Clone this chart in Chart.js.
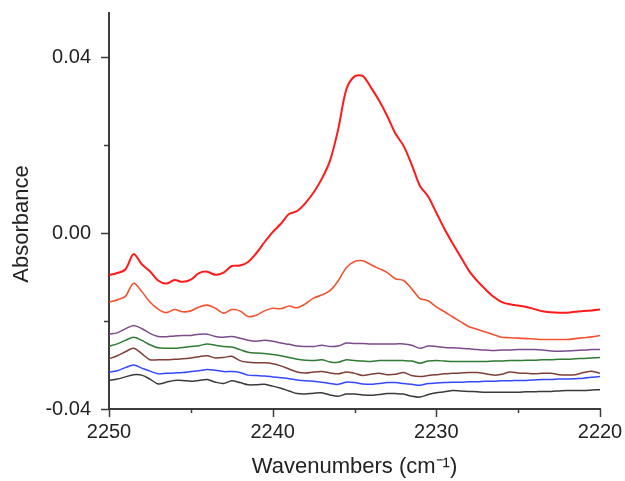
<!DOCTYPE html>
<html>
<head>
<meta charset="utf-8">
<script src="https://cdn.jsdelivr.net/npm/chart.js@4.4.1/dist/chart.umd.min.js"></script>
<style>
  html, body { margin: 0; padding: 0; background: #fff; }
  canvas { display: block; }
</style>
</head>
<body>
<canvas id="myChart" width="625" height="481"></canvas>
<script>
// wavenumbers (cm-1), shared by all spectra
const wavenumbers = [
  2250, 2249.5, 2249, 2248.5, 2248, 2247.5, 2247, 2246.5, 2246, 2245.5,
  2245, 2244.5, 2244, 2243.5, 2243, 2242.5, 2242, 2241.5, 2241, 2240.5,
  2240, 2239.5, 2239, 2238.5, 2238, 2237.5, 2237, 2236.5, 2236, 2235.5,
  2235, 2234.5, 2234, 2233.5, 2233, 2232.5, 2232, 2231.5, 2231, 2230.5,
  2230, 2229.5, 2229, 2228.5, 2228, 2227.5, 2227, 2226.5, 2226, 2225.5,
  2225, 2224.5, 2224, 2223.5, 2223, 2222.5, 2222, 2221.5, 2221, 2220.5, 2220
];

// absorbance of each spectrum, top to bottom
const redSpectrum = [
  -0.0096, -0.0091, -0.0083, -0.0048, -0.0071, -0.0087, -0.0108, -0.0115, -0.0107, -0.0111,
  -0.0106, -0.0091, -0.0088, -0.0095, -0.0090, -0.0075, -0.0074, -0.0066, -0.0046, -0.0021,
  0.0002, 0.0021, 0.0043, 0.0050, 0.0068, 0.0092, 0.0123, 0.0164, 0.0235, 0.0326,
  0.0356, 0.0357, 0.0331, 0.0301, 0.0266, 0.0226, 0.0198, 0.0155, 0.0107, 0.0083,
  0.0046, 0.0009, -0.0024, -0.0055, -0.0086, -0.0109, -0.0128, -0.0145, -0.0157, -0.0162,
  -0.0165, -0.0168, -0.0173, -0.0178, -0.0180, -0.0181, -0.0181, -0.0179, -0.0177, -0.0176, -0.0174
];
const orangeSpectrum = [
  -0.0157, -0.0152, -0.0144, -0.0114, -0.0133, -0.0157, -0.0173, -0.0181, -0.0174, -0.0179,
  -0.0177, -0.0168, -0.0164, -0.0171, -0.0182, -0.0174, -0.0177, -0.0190, -0.0187, -0.0177,
  -0.0171, -0.0172, -0.0166, -0.0170, -0.0161, -0.0148, -0.0141, -0.0131, -0.0109, -0.0079,
  -0.0065, -0.0063, -0.0072, -0.0081, -0.0090, -0.0104, -0.0108, -0.0127, -0.0149, -0.0154,
  -0.0168, -0.0179, -0.0191, -0.0202, -0.0213, -0.0219, -0.0225, -0.0231, -0.0237, -0.0238,
  -0.0239, -0.0240, -0.0241, -0.0242, -0.0242, -0.0242, -0.0242, -0.0240, -0.0238, -0.0236, -0.0233
];
const purpleSpectrum = [
  -0.0230, -0.0227, -0.0218, -0.0210, -0.0217, -0.0228, -0.0235, -0.0236, -0.0234, -0.0233,
  -0.0233, -0.0230, -0.0230, -0.0235, -0.0237, -0.0235, -0.0239, -0.0244, -0.0246, -0.0244,
  -0.0246, -0.0250, -0.0253, -0.0257, -0.0258, -0.0258, -0.0255, -0.0258, -0.0257, -0.0250,
  -0.0251, -0.0251, -0.0252, -0.0252, -0.0252, -0.0252, -0.0252, -0.0255, -0.0262, -0.0257,
  -0.0258, -0.0260, -0.0261, -0.0262, -0.0263, -0.0265, -0.0266, -0.0267, -0.0266, -0.0266,
  -0.0265, -0.0265, -0.0265, -0.0266, -0.0268, -0.0269, -0.0268, -0.0267, -0.0266, -0.0265, -0.0265
];
const greenSpectrum = [
  -0.0257, -0.0252, -0.0244, -0.0237, -0.0244, -0.0254, -0.0261, -0.0262, -0.0262, -0.0260,
  -0.0258, -0.0256, -0.0252, -0.0255, -0.0258, -0.0259, -0.0265, -0.0271, -0.0273, -0.0274,
  -0.0276, -0.0279, -0.0283, -0.0287, -0.0289, -0.0290, -0.0288, -0.0293, -0.0294, -0.0288,
  -0.0290, -0.0291, -0.0292, -0.0290, -0.0290, -0.0290, -0.0290, -0.0291, -0.0296, -0.0291,
  -0.0290, -0.0291, -0.0292, -0.0292, -0.0292, -0.0292, -0.0292, -0.0291, -0.0291, -0.0290,
  -0.0290, -0.0289, -0.0289, -0.0288, -0.0288, -0.0287, -0.0287, -0.0286, -0.0285, -0.0284, -0.0283
];
const brownSpectrum = [
  -0.0286, -0.0279, -0.0270, -0.0262, -0.0274, -0.0288, -0.0288, -0.0288, -0.0287, -0.0286,
  -0.0284, -0.0281, -0.0279, -0.0284, -0.0283, -0.0280, -0.0290, -0.0294, -0.0295, -0.0295,
  -0.0297, -0.0302, -0.0309, -0.0316, -0.0318, -0.0316, -0.0315, -0.0318, -0.0320, -0.0316,
  -0.0319, -0.0324, -0.0321, -0.0319, -0.0322, -0.0321, -0.0317, -0.0324, -0.0326, -0.0324,
  -0.0322, -0.0320, -0.0319, -0.0318, -0.0317, -0.0317, -0.0320, -0.0323, -0.0321, -0.0316,
  -0.0318, -0.0319, -0.0320, -0.0319, -0.0319, -0.0322, -0.0323, -0.0322, -0.0317, -0.0314, -0.0319
];
const blueSpectrum = [
  -0.0316, -0.0313, -0.0306, -0.0300, -0.0307, -0.0314, -0.0320, -0.0319, -0.0318, -0.0317,
  -0.0315, -0.0313, -0.0310, -0.0312, -0.0315, -0.0315, -0.0317, -0.0323, -0.0324, -0.0325,
  -0.0327, -0.0329, -0.0331, -0.0334, -0.0336, -0.0337, -0.0339, -0.0342, -0.0344, -0.0339,
  -0.0340, -0.0343, -0.0344, -0.0342, -0.0340, -0.0340, -0.0342, -0.0344, -0.0346, -0.0342,
  -0.0341, -0.0340, -0.0339, -0.0339, -0.0338, -0.0338, -0.0337, -0.0337, -0.0336, -0.0336,
  -0.0335, -0.0335, -0.0334, -0.0333, -0.0333, -0.0332, -0.0332, -0.0331, -0.0330, -0.0328, -0.0326
];
const blackSpectrum = [
  -0.0335, -0.0332, -0.0327, -0.0322, -0.0323, -0.0332, -0.0343, -0.0339, -0.0335, -0.0335,
  -0.0337, -0.0335, -0.0333, -0.0339, -0.0342, -0.0336, -0.0340, -0.0345, -0.0345, -0.0344,
  -0.0348, -0.0353, -0.0359, -0.0365, -0.0366, -0.0364, -0.0363, -0.0368, -0.0371, -0.0366,
  -0.0366, -0.0368, -0.0369, -0.0367, -0.0365, -0.0365, -0.0366, -0.0371, -0.0373, -0.0367,
  -0.0363, -0.0361, -0.0358, -0.0359, -0.0360, -0.0361, -0.0362, -0.0362, -0.0362, -0.0362,
  -0.0362, -0.0361, -0.0361, -0.0360, -0.0360, -0.0359, -0.0358, -0.0358, -0.0358, -0.0357, -0.0356
];

const xTicks = [2250, 2245, 2240, 2235, 2230, 2225, 2220];
const xLabeled = [2250, 2240, 2230, 2220];
const yTicks = [-0.04, -0.02, 0, 0.02, 0.04];
const yLabeled = [-0.04, 0, 0.04];

const FONT = "'Liberation Sans', Arial, sans-serif";
const AXIS = "#3c3c3c";

function toPoints(values) {
  return values.map((v, i) => ({ x: wavenumbers[i], y: v }));
}

function spectrum(values, color, width) {
  return {
    data: toPoints(values),
    borderColor: color,
    borderWidth: width,
    pointRadius: 0,
    fill: false,
    tension: 0.3,
  };
}

// keep the plot box where the reference has it
function noEdgePadding(scale) {
  scale.paddingTop = 0;
  scale.paddingBottom = 0;
  scale.paddingLeft = 0;
  scale.paddingRight = 0;
}

// ticks outside the axes, long for labelled values, short for the others
const tickMarks = {
  id: "tickMarks",
  afterDraw(chart) {
    const ctx = chart.ctx;
    const xs = chart.scales.x;
    const ys = chart.scales.y;
    const area = chart.chartArea;
    ctx.save();
    ctx.strokeStyle = AXIS;
    ctx.lineWidth = 1.5;
    ctx.beginPath();
    xTicks.forEach((t) => {
      const px = Math.round(xs.getPixelForValue(t)) + 0.5;
      const len = xLabeled.includes(t) ? 8 : 4;
      ctx.moveTo(px, area.bottom);
      ctx.lineTo(px, area.bottom + len);
    });
    yTicks.forEach((t) => {
      const py = Math.round(ys.getPixelForValue(t)) + 0.5;
      const len = yLabeled.includes(t) ? 8 : 5;
      ctx.moveTo(area.left, py);
      ctx.lineTo(area.left - len, py);
    });
    ctx.stroke();

    // y axis title, rotated
    ctx.fillStyle = "#222";
    ctx.font = "22px " + FONT;
    ctx.textAlign = "center";
    ctx.textBaseline = "middle";
    ctx.translate(22, 224);
    ctx.rotate(-Math.PI / 2);
    ctx.fillText("Absorbance", 0, 0);
    ctx.restore();
  },
};

const ctx = document.getElementById("myChart").getContext("2d");

window.myChart = new Chart(ctx, {
  type: "line",
  data: {
    datasets: [
      spectrum(redSpectrum, "#ff1a1a", 2),
      spectrum(orangeSpectrum, "#f2522e", 1.6),
      spectrum(purpleSpectrum, "#7d4a8c", 1.5),
      spectrum(greenSpectrum, "#2f7a34", 1.5),
      spectrum(brownSpectrum, "#7e4036", 1.5),
      spectrum(blueSpectrum, "#3448ff", 1.5),
      spectrum(blackSpectrum, "#3a3a3a", 1.5),
    ],
  },
  options: {
    responsive: false,
    animation: false,
    layout: { padding: { top: 13, right: 25, left: 0, bottom: 0 } },
    plugins: {
      legend: { display: false },
      tooltip: { enabled: false },
    },
    scales: {
      x: {
        type: "linear",
        reverse: true,
        min: 2220,
        max: 2250,
        afterBuildTicks: (scale) => {
          scale.ticks = xTicks.map((v) => ({ value: v }));
        },
        afterFit: (scale) => {
          scale.height = 72;
          noEdgePadding(scale);
        },
        grid: { display: false, drawTicks: false },
        border: { display: true, color: AXIS, width: 2 },
        ticks: {
          color: "#222",
          padding: 11,
          maxRotation: 0,
          autoSkip: false,
          font: { family: FONT, size: 20 },
          callback: (v) => (xLabeled.includes(v) ? String(v) : ""),
        },
        title: {
          display: true,
          text: "Wavenumbers (cm\u207B\u00B9)",
          color: "#222",
          font: { family: FONT, size: 22 },
          padding: { top: 0, bottom: 1 },
        },
      },
      y: {
        min: -0.04,
        max: 0.05,
        afterBuildTicks: (scale) => {
          scale.ticks = yTicks.map((v) => ({ value: v }));
        },
        afterFit: (scale) => {
          scale.width = 109;
          noEdgePadding(scale);
        },
        grid: { display: false, drawTicks: false },
        border: { display: true, color: AXIS, width: 2 },
        ticks: {
          color: "#222",
          padding: 18,
          autoSkip: false,
          font: { family: FONT, size: 20 },
          callback: (v) => {
            const r = Math.round(v * 100) / 100;
            return yLabeled.includes(r) ? r.toFixed(2) : "";
          },
        },
      },
    },
  },
  plugins: [tickMarks],
});
</script>
</body>
</html>
